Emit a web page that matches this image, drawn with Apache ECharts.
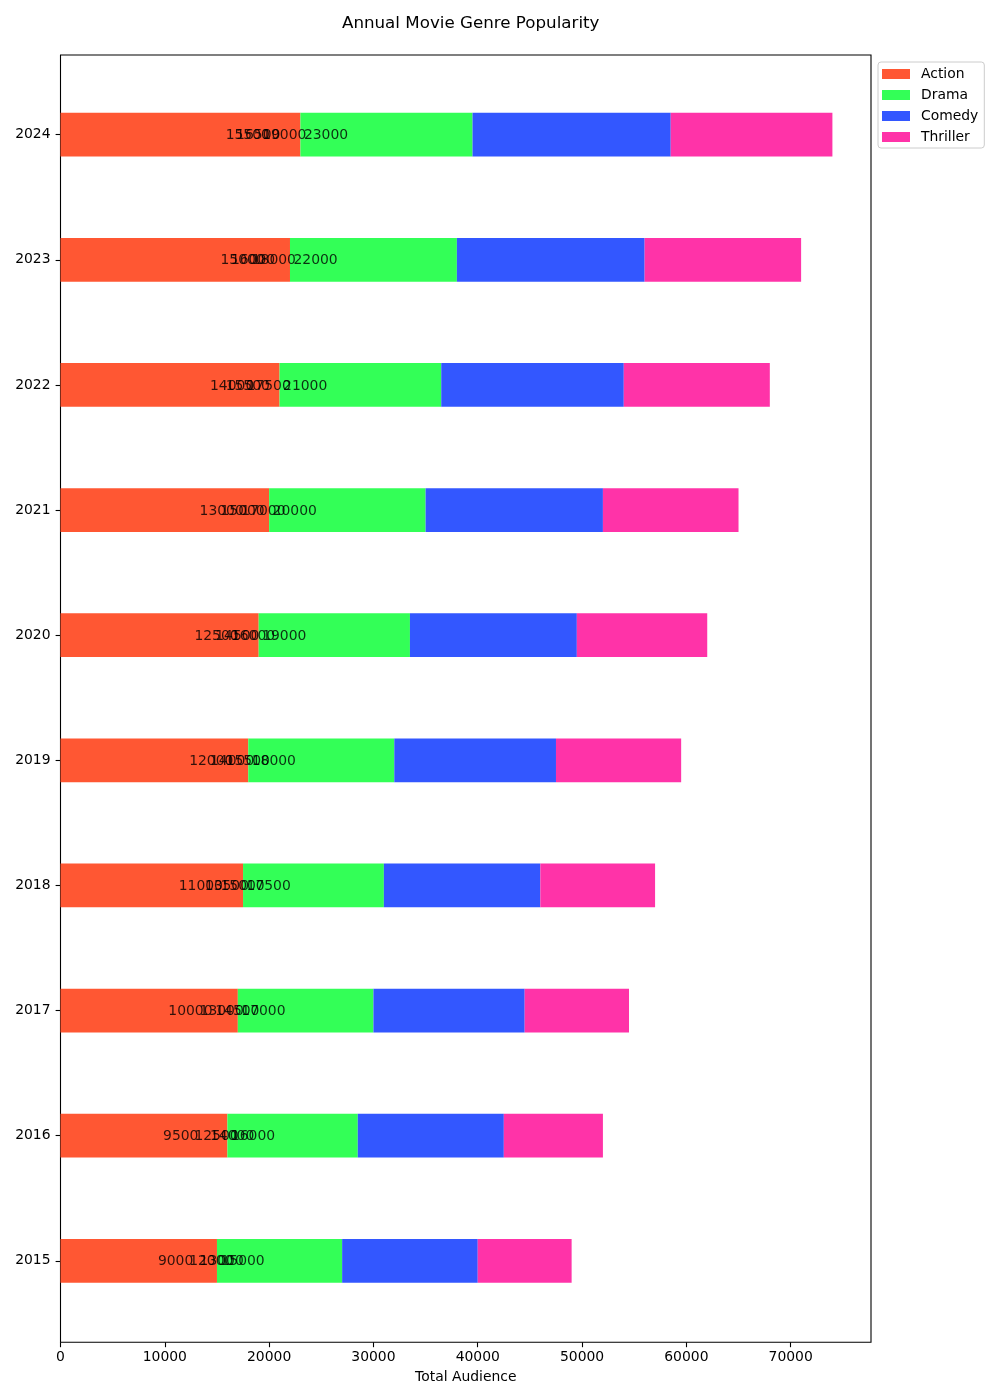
<!DOCTYPE html>
<html>
<head>
<meta charset="utf-8">
<script src="https://cdn.jsdelivr.net/npm/echarts@6/dist/echarts.min.js"></script>
<style>html,body{margin:0;padding:0;background:#fff;}#c{width:1000px;height:1400px;}</style>
</head>
<body>
<div id="c"></div>
<script>
const years = ['2015','2016','2017','2018','2019','2020','2021','2022','2023','2024'];
const action   = [15000,16000,17000,17500,18000,19000,20000,21000,22000,23000];
const drama    = [12000,12500,13000,13500,14000,14500,15000,15500,16000,16500];
const comedy   = [13000,14000,14500,15000,15500,16000,17000,17500,18000,19000];
const thriller = [9000,9500,10000,11000,12000,12500,13000,14000,15000,15500];
const xTicks = [0,10000,20000,30000,40000,50000,60000,70000];

const genres = [
  {name:'Action', values:action, color:'#FF5733'},
  {name:'Drama', values:drama, color:'#33FF57'},
  {name:'Comedy', values:comedy, color:'#3357FF'},
  {name:'Thriller', values:thriller, color:'#FF33A8'}
];
const FONT = 'DejaVu Sans';
const XMAX = 77700;

const chart = echarts.init(document.getElementById('c'), null, {renderer:'canvas'});
const series = [];
genres.forEach(g => {
  series.push({
    name: g.name, type:'bar', stack:'total', xAxisIndex:1, yAxisIndex:1,
    barWidth:'35%', itemStyle:{color:g.color}, data:g.values, z:2
  });
});
genres.forEach(g => {
  series.push({
    name: g.name + '_lbl', type:'scatter', xAxisIndex:1, yAxisIndex:1,
    symbolSize:1, itemStyle:{color:'rgba(0,0,0,0)'}, z:10, silent:true,
    data: g.values.map((v,i)=>[v, years[i]]),
    label:{show:true, position:'right', distance:3, color:'#000', fontFamily:FONT, fontSize:13.9,
      offset:[0,1], formatter: p => String(p.value[0])}
  });
});

chart.setOption({
  animation:false,
  backgroundColor:'#fff',
  title:{text:'Annual Movie Genre Popularity', left:465.7, top:10, textAlign:'center',
    textStyle:{fontFamily:FONT, fontSize:16.7, fontWeight:'normal', color:'#000'}},
  legend:{
    data: genres.map(g=>g.name), orient:'vertical', left:878, top:62,
    itemWidth:28, itemHeight:10, itemGap:7, padding:[5,6,4,4],
    borderColor:'#cccccc', borderWidth:1, borderRadius:3, backgroundColor:'#fff',
    icon:'rect',
    textStyle:{fontFamily:FONT, fontSize:13.9, color:'#000', padding:[0,0,0,6]}
  },
  grid:[
    {left:60.5, right:129, top:55, bottom:57.7, show:true, borderColor:'#000', borderWidth:1.1, backgroundColor:'transparent'},
    {left:60.5, right:129, top:72.1, bottom:76.6}
  ],
  xAxis:[
    {type:'value', gridIndex:0, min:0, max:XMAX, interval:10000,
      name:'Total Audience', nameLocation:'middle', nameGap:28,
      nameTextStyle:{fontFamily:FONT, fontSize:13.9, color:'#000'},
      axisLine:{show:false}, splitLine:{show:false},
      axisTick:{show:true, length:4.9, lineStyle:{color:'#000', width:1.1}},
      axisLabel:{fontFamily:FONT, fontSize:13.9, color:'#000', margin:8,
        showMaxLabel:false,
        formatter: v => xTicks.indexOf(v) >= 0 ? String(v) : ''}
    },
    {type:'value', gridIndex:1, min:0, max:XMAX, show:false, splitLine:{show:false}}
  ],
  yAxis:[
    {type:'category', gridIndex:0, data:years, show:false},
    {type:'category', gridIndex:1, data:years,
      axisLine:{show:false},
      axisTick:{show:true, alignWithLabel:true, length:4.9, lineStyle:{color:'#000', width:1.1}},
      axisLabel:{fontFamily:FONT, fontSize:13.9, color:'#000', margin:10},
      splitLine:{show:false}
    }
  ],
  series: series
});
</script>
</body>
</html>
